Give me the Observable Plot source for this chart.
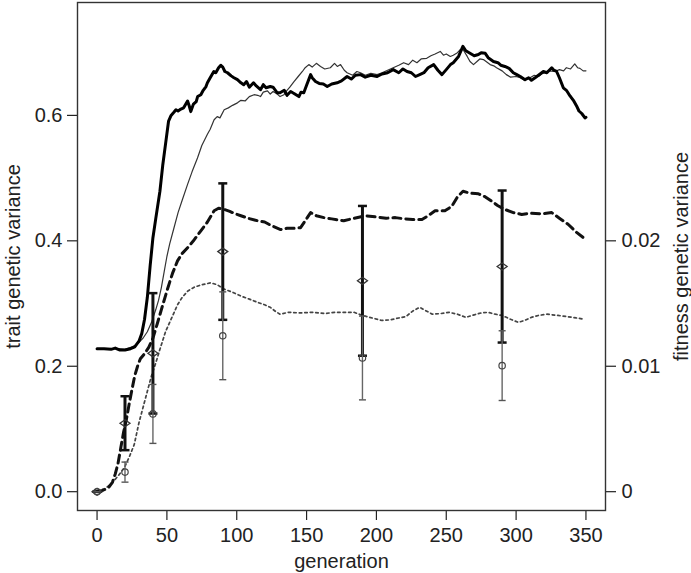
<!DOCTYPE html>
<html>
<head>
<meta charset="utf-8">
<script src="https://cdn.jsdelivr.net/npm/d3@7"></script>
<script src="https://cdn.jsdelivr.net/npm/@observablehq/plot@0.6"></script>
<style>
  html, body { margin: 0; padding: 0; background: #fff; }
</style>
</head>
<body>
<div id="chart"></div>
<script>
// ---------- data ----------
// axis ticks
const xTicks = [0, 50, 100, 150, 200, 250, 300, 350];
const traitTicks = [0, 0.2, 0.4, 0.6];
const fitnessTicks = [0, 0.01, 0.02];
const fitnessTickLabels = ["0", "0.01", "0.02"];
const xLabel = "generation";
const traitLabel = "trait genetic variance";
const fitnessLabel = "fitness genetic variance";

// trait genetic variance, thick solid line: [generation, variance]
const traitThick = [
  [0,0.228],[5,0.228],[10,0.227],[13,0.229],[16,0.226],[20,0.226],[24,0.228],[27,0.231],[30,0.24],[32,0.252],
  [34,0.275],[36,0.31],[38,0.36],[40,0.405],[42,0.435],[45,0.479],[47,0.52],[49.3,0.559],[51.2,0.591],[53,0.6],
  [55,0.605],[56.5,0.609],[58,0.607],[60,0.61],[62,0.612],[64.8,0.623],[66,0.615],[67.1,0.606],[69,0.618],[71,0.622],
  [72,0.63],[74.3,0.633],[76,0.64],[78,0.646],[79,0.652],[81,0.66],[83.6,0.67],[85,0.668],[87,0.676],[88.6,0.68],
  [90,0.677],[91.5,0.67],[93.4,0.668],[96,0.663],[98,0.66],[100.5,0.657],[103,0.652],[105,0.649],[107,0.654],[109,0.645],
  [112,0.652],[114,0.647],[117,0.641],[119,0.649],[121,0.644],[124,0.646],[126,0.645],[129,0.636],[131,0.636],[134,0.64],
  [136,0.632],[138.6,0.638],[141,0.635],[144.5,0.63],[146,0.637],[148,0.636],[150,0.648],[152.9,0.665],[154,0.66],[156.4,0.654],
  [159,0.651],[162,0.65],[164.8,0.646],[168,0.65],[171.9,0.652],[175,0.655],[179,0.662],[182,0.658],[185,0.664],[188.6,0.665],
  [192,0.661],[196,0.664],[200.5,0.662],[204,0.666],[208,0.668],[212,0.673],[216,0.668],[219,0.674],[221.9,0.67],[225,0.668],
  [228,0.662],[231,0.665],[234,0.668],[237,0.676],[241,0.681],[244,0.672],[246.9,0.665],[250,0.673],[253,0.681],[255,0.684],
  [258.8,0.694],[261.9,0.71],[264,0.703],[267,0.699],[270,0.695],[273,0.697],[275,0.7],[277.9,0.699],[280,0.692],[283.8,0.686],
  [287,0.684],[289,0.68],[292,0.678],[295,0.675],[298,0.668],[300.5,0.665],[303,0.662],[306.4,0.657],[309,0.66],[311,0.656],
  [313.6,0.66],[316,0.664],[319.5,0.67],[322,0.668],[325.5,0.676],[327,0.672],[329,0.67],[331,0.66],[333.8,0.644],[336,0.64],
  [338.6,0.631],[341,0.624],[343.3,0.615],[345,0.607],[347,0.603],[349.3,0.596],[350,0.597]
];

// trait genetic variance, thin solid line
const traitThin = [
  [0,0.228],[10,0.228],[15,0.228],[20,0.227],[24,0.23],[27,0.233],[30,0.238],[33,0.245],[36,0.255],[39,0.27],
  [42,0.29],[44,0.305],[46,0.325],[48,0.35],[50,0.375],[52,0.395],[55,0.42],[58,0.445],[61,0.465],[64.8,0.49],
  [68,0.51],[71.9,0.532],[75,0.552],[79,0.57],[81,0.578],[83.8,0.593],[86,0.598],[88,0.596],[91,0.609],[94,0.612],
  [97,0.616],[100.5,0.62],[103,0.624],[106,0.623],[109,0.63],[112.4,0.633],[115,0.632],[117,0.63],[119,0.637],[122,0.639],
  [124,0.634],[126,0.638],[129,0.634],[131,0.63],[133.8,0.633],[136,0.64],[138,0.645],[141,0.654],[144,0.662],[147,0.67],
  [149,0.676],[151.6,0.681],[154,0.677],[157,0.683],[160,0.678],[163,0.674],[167,0.676],[170,0.683],[172,0.678],[174.3,0.681],
  [177,0.672],[179,0.668],[183,0.664],[186,0.67],[188.6,0.668],[192,0.664],[196,0.667],[200.5,0.665],[204,0.668],[208,0.672],
  [212,0.676],[216,0.68],[219.5,0.684],[223,0.681],[226,0.688],[229,0.684],[232,0.69],[236,0.691],[239,0.695],[242,0.698],
  [245.7,0.702],[248,0.696],[250,0.698],[252.9,0.694],[255,0.696],[258,0.7],[260,0.705],[262,0.705],[265,0.694],[267,0.686],
  [269.5,0.681],[272,0.686],[274,0.69],[276.6,0.689],[279,0.685],[281.4,0.681],[284,0.679],[286,0.676],[290,0.671],[293,0.665],
  [296,0.661],[300,0.662],[302.9,0.66],[306,0.656],[310,0.66],[313,0.664],[316,0.662],[319.5,0.668],[323,0.671],[327.9,0.67],
  [331,0.673],[334,0.671],[336,0.676],[339,0.674],[342,0.682],[344,0.676],[345.7,0.675],[348,0.671],[350,0.671]
];

// fitness genetic variance, thick dashed line (right axis units)
const fitnessThick = [
  [0,0],[4,0.0001],[8,0.0003],[11,0.00075],[13,0.0014],[15,0.00225],[17,0.0035],[19,0.00475],[21,0.00575],[23,0.007],
  [25,0.00815],[27,0.00925],[29,0.01],[31,0.0106],[34,0.011],[37,0.0115],[40,0.01225],[43,0.01335],[46,0.0145],[50,0.016],
  [54,0.0174],[57.6,0.0184],[61,0.019],[64.8,0.01945],[69,0.02],[74.3,0.0208],[79,0.0215],[83.8,0.0224],[87,0.0226],[91,0.0225],
  [95,0.02235],[99,0.02215],[103,0.022],[108,0.0218],[114.8,0.0216],[120,0.0215],[125,0.0212],[131.4,0.0209],[136,0.021],[141,0.021],
  [145.7,0.02105],[149,0.0216],[152.9,0.02225],[157,0.022],[162.4,0.02185],[168,0.02175],[176.6,0.0216],[184,0.0218],[192,0.022],[200,0.0219],
  [207,0.0218],[213.6,0.02185],[220,0.02175],[226,0.0217],[232.6,0.0217],[237,0.022],[242,0.0224],[249,0.0224],[254,0.02275],[258,0.0235],
  [262,0.02395],[267,0.0238],[273,0.02375],[278,0.0235],[282.6,0.02315],[287,0.0228],[292,0.0225],[298,0.02225],[304,0.0221],[310,0.0222],
  [318,0.02215],[325.5,0.02225],[331,0.0218],[337.4,0.0213],[343,0.0207],[349.3,0.02015]
];

// fitness genetic variance, thin dotted line (right axis units)
const fitnessThin = [
  [0,0.0001],[5,0.0002],[10,0.0006],[15,0.00125],[19.5,0.0019],[23,0.00275],[26.6,0.00375],[30,0.0055],[33,0.00675],[36,0.008],
  [39,0.00925],[42,0.01025],[45,0.01135],[49,0.01275],[53,0.01375],[57.6,0.0149],[61,0.0155],[65,0.016],[69.5,0.0163],[75,0.0165],
  [81.4,0.01665],[86,0.0165],[91,0.01615],[97,0.0159],[103,0.0156],[109,0.01535],[114.8,0.0151],[120,0.0149],[124,0.0147],[128,0.01435],
  [131,0.01415],[137,0.0143],[145,0.01425],[155,0.0143],[163,0.0142],[170,0.0143],[178,0.0143],[184,0.0143],[190,0.01405],[197,0.01385],
  [204,0.01365],[210,0.0137],[216,0.01385],[221,0.01395],[226,0.0144],[231,0.0147],[235,0.01445],[240,0.01415],[246,0.0142],[252,0.0143],
  [258,0.01415],[264,0.0139],[270,0.0141],[275,0.01425],[280,0.0143],[285,0.01415],[290,0.01405],[296,0.01375],[301.6,0.0135],[306,0.01365],
  [311,0.0139],[316,0.01405],[322,0.01415],[330,0.01405],[337,0.01395],[343,0.01385],[349,0.01375]
];

// error bars (right axis units): generation, mean, half-width
const barGens = [0, 20, 40, 90, 190, 290];
const thickBarMean = [0, 0.00546, 0.01103, 0.01914, 0.01681, 0.01795];
const thickBarHalf = [0, 0.00215, 0.0048, 0.00544, 0.00597, 0.00606];
const thinBarMean  = [0, 0.00156, 0.0062, 0.01243, 0.01066, 0.01005];
const thinBarHalf  = [0, 0.0008, 0.00235, 0.0035, 0.00334, 0.00278];

// ---------- build ----------
const F = 0.4 / 0.02; // right-axis value -> left-axis position factor (0.02 aligns with 0.4)

const toRows = (arr, k = 1) => arr.map(([g, v]) => ({g, v: v * k}));
const thickBars = barGens.map((g, i) => ({g, m: thickBarMean[i] * F, lo: (thickBarMean[i] - thickBarHalf[i]) * F, hi: (thickBarMean[i] + thickBarHalf[i]) * F}));
const thinBars = barGens.map((g, i) => ({g, m: thinBarMean[i] * F, lo: (thinBarMean[i] - thinBarHalf[i]) * F, hi: (thinBarMean[i] + thinBarHalf[i]) * F}));

const capSymbol = {
  draw(context, size) {
    const r = Math.sqrt(size / Math.PI);
    context.moveTo(-r, 0);
    context.lineTo(r, 0);
  }
};
const wideDiamond = {
  draw(context, size) {
    const r = Math.sqrt(size / Math.PI);
    context.moveTo(-r, 0);
    context.lineTo(0, -r * 0.7);
    context.lineTo(r, 0);
    context.lineTo(0, r * 0.7);
    context.closePath();
  }
};

const fitLabel = d => {
  const i = fitnessTicks.findIndex(t => Math.abs(t * F - d) < 1e-9);
  return i >= 0 ? fitnessTickLabels[i] : "";
};

const chart = Plot.plot({
  width: 691,
  height: 573,
  marginLeft: 77,
  marginRight: 86,
  marginTop: 2,
  marginBottom: 63,
  style: {fontFamily: "'Liberation Sans', Arial, Helvetica, sans-serif", fontSize: "20px", color: "#222", background: "#fff"},
  x: {domain: [-14, 364]},
  y: {domain: [-0.03, 0.78]},
  marks: [
    Plot.axisX({ticks: xTicks, tickSize: 10, tickPadding: 7.5, label: null, strokeWidth: 1.2}),
    Plot.axisY({ticks: traitTicks, tickFormat: d => d.toFixed(1), tickSize: 10, tickPadding: 5, label: null, anchor: "left", strokeWidth: 1.2}),
    Plot.axisY({ticks: fitnessTicks.map(t => t * F), tickFormat: fitLabel, tickSize: 10, tickPadding: 6, label: null, anchor: "right", strokeWidth: 1.2}),
    Plot.frame({stroke: "#333", strokeWidth: 1.4}),

    // lines
    Plot.line(toRows(fitnessThin, F), {x: "g", y: "v", stroke: "#444", strokeWidth: 1.7, strokeDasharray: "2.5,3"}),
    Plot.line(toRows(fitnessThick, F), {x: "g", y: "v", stroke: "#111", strokeWidth: 3, strokeDasharray: "8,5"}),
    Plot.line(toRows(traitThin), {x: "g", y: "v", stroke: "#333", strokeWidth: 1.2, strokeLinejoin: "round"}),
    Plot.line(toRows(traitThick), {x: "g", y: "v", stroke: "#000", strokeWidth: 3, strokeLinejoin: "round"}),

    // thick error bars with diamonds
    Plot.ruleX(thickBars, {x: "g", y1: "lo", y2: "hi", stroke: "#111", strokeWidth: 3}),
    Plot.dot(thickBars, {x: "g", y: "hi", symbol: capSymbol, r: 4.5, stroke: "#111", strokeWidth: 2.5}),
    Plot.dot(thickBars, {x: "g", y: "lo", symbol: capSymbol, r: 4.5, stroke: "#111", strokeWidth: 2.5}),
    // thin error bars with circles
    Plot.ruleX(thinBars, {x: "g", y1: "lo", y2: "hi", stroke: "#666", strokeWidth: 1.4}),
    Plot.dot(thinBars, {x: "g", y: "hi", symbol: capSymbol, r: 3.5, stroke: "#555", strokeWidth: 1.4}),
    Plot.dot(thinBars, {x: "g", y: "lo", symbol: capSymbol, r: 3.5, stroke: "#555", strokeWidth: 1.4}),
    Plot.dot(thickBars, {x: "g", y: "m", symbol: wideDiamond, r: 5, stroke: "#333", strokeWidth: 1.3, fill: "none"}),
    Plot.dot(thinBars, {x: "g", y: "m", symbol: "circle", r: 3.2, stroke: "#444", strokeWidth: 1.2, fill: "none"}),

    // axis titles
    Plot.text([xLabel], {frameAnchor: "bottom", dy: 50.6, lineAnchor: "middle", textAnchor: "middle", fill: "#222"}),
    Plot.text([traitLabel], {frameAnchor: "left", dx: -64.4, rotate: -90, lineAnchor: "middle", textAnchor: "middle", fill: "#222"}),
    Plot.text([fitnessLabel], {frameAnchor: "right", dx: 75.6, rotate: -90, lineAnchor: "middle", textAnchor: "middle", fill: "#222"})
  ]
});

document.getElementById("chart").appendChild(chart);
</script>
</body>
</html>
